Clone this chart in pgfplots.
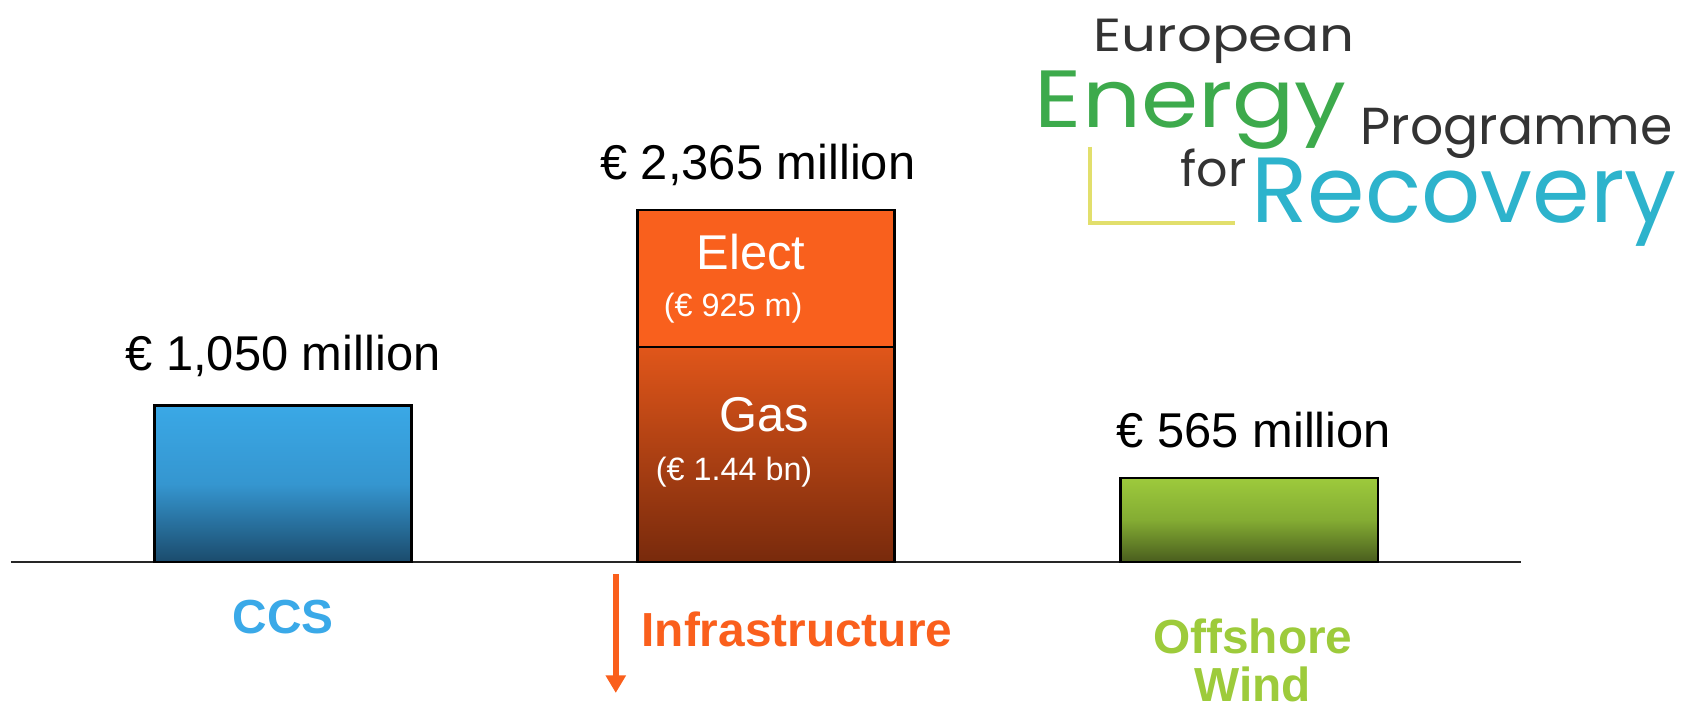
\documentclass[border=0pt]{standalone}
\usepackage{fontspec}
\setmainfont{Liberation Sans}
\newfontfamily\logofont{Poppins}
\usepackage{pgfplots}
\pgfplotsset{compat=1.18}
\usetikzlibrary{arrows.meta}
\definecolor{ccsTop}{HTML}{3AA8E6}
\definecolor{ccsMid}{HTML}{3596D0}
\definecolor{ccsBot}{HTML}{1B4B6C}
\definecolor{elect}{HTML}{F9601D}
\definecolor{gasTop}{HTML}{E0561A}
\definecolor{gasBot}{HTML}{782A0C}
\definecolor{windTop}{HTML}{9DCA3C}
\definecolor{windMid}{HTML}{84AC33}
\definecolor{windBot}{HTML}{495D1E}
\definecolor{ccsText}{HTML}{3AA9E8}
\definecolor{infraText}{HTML}{FA5F1C}
\definecolor{windText}{HTML}{9DCB3B}
\definecolor{logoGray}{HTML}{333333}
\definecolor{logoGreen}{HTML}{3DAA4C}
\definecolor{logoBlue}{HTML}{2DB3CC}
\definecolor{logoYellow}{HTML}{E2DF6C}
\newcommand{\vlab}{\fontsize{13.9pt}{14pt}\selectfont}
\newcommand{\slab}{\fontsize{9.2pt}{10pt}\selectfont}
\newcommand{\clab}{\fontsize{13.6pt}{13.9pt}\selectfont\bfseries}
\begin{document}
\begin{tikzpicture}
\useasboundingbox (0,0) rectangle (170.6mm,71.1mm);
\fill[white] (0,0) rectangle (170.6mm,71.1mm);
% logo
\node[anchor=base west, inner sep=0, text=logoGray] at (109.3mm,65.9mm) {\scalebox{1}[0.85]{\resizebox{26.1mm}{!}{\logofont European}}};
\node[anchor=base west, inner sep=0, text=logoGreen] at (103.4mm,58.3mm) {\scalebox{1}[0.88]{\resizebox{31.2mm}{!}{\logofont Energy}}};
\node[anchor=base west, inner sep=0, text=logoGray] at (136.0mm,56.6mm) {\resizebox{31.2mm}{!}{\logofont Programme}};
\node[anchor=base west, inner sep=0, text=logoGray] at (118.0mm,52.4mm) {\resizebox{6.6mm}{!}{\logofont for}};
\node[anchor=base west, inner sep=0, text=logoBlue] at (125.1mm,48.8mm) {\resizebox{42.5mm}{!}{\logofont Recovery}};
\draw[logoYellow, line width=0.4mm] (109.0mm,56.4mm) -- (109.0mm,48.8mm) -- (123.5mm,48.8mm);
\begin{axis}[
  at={(1.1mm,14.9mm)}, anchor=south west,
  width=151mm, height=55.13mm, scale only axis,
  xmin=-0.563, xmax=2.563, ymin=0, ymax=3700,
  axis x line*=bottom, axis y line=none,
  xtick=\empty, ytick=\empty,
  x axis line style={line width=0.6pt, black!85},
  clip=false,
]
\addplot[ybar, bar width=25.7mm, bar shift=0pt, draw=black, line width=0.6pt,
  top color=ccsTop, bottom color=ccsBot, middle color=ccsMid] coordinates {(0,1050)};
\addplot[ybar, bar width=25.7mm, bar shift=0pt, draw=black, line width=0.6pt,
  fill=elect] coordinates {(1,2365)};
\addplot[ybar, bar width=25.7mm, bar shift=0pt, draw=black, line width=0.6pt,
  top color=gasTop, bottom color=gasBot] coordinates {(1,1440)};
\addplot[ybar, bar width=25.7mm, bar shift=0pt, draw=black, line width=0.6pt,
  top color=windTop, bottom color=windBot, middle color=windMid] coordinates {(2,565)};
% value labels
\node[font=\vlab] at (axis cs:0,1383) {€ 1,050 million};
\node[font=\vlab] at (axis cs:0.983,2664) {€ 2,365 million};
\node[font=\vlab] at (axis cs:2.01,886) {€ 565 million};
\node[font=\vlab, text=white] at (axis cs:0.969,2080) {Elect};
\node[font=\slab, text=white] at (axis cs:0.932,1705) {(€ 925 m)};
\node[font=\vlab, text=white] at (axis cs:0.996,987) {Gas};
\node[font=\slab, text=white] at (axis cs:0.934,604) {(€ 1.44 bn)};
% category labels
\node[font=\clab, text=ccsText] at (axis cs:0,-369) {CCS};
\node[font=\clab, text=infraText] at (axis cs:1.064,-450) {Infrastructure};
\node[font=\clab, text=windText, align=center] at (axis cs:2.008,-661) {Offshore\\Wind};
\draw[infraText, line width=1.7pt, -{Triangle[width=5.5pt,length=5pt]}] (axis cs:0.689,-81) -- (axis cs:0.689,-879);
\end{axis}
\end{tikzpicture}
\end{document}
